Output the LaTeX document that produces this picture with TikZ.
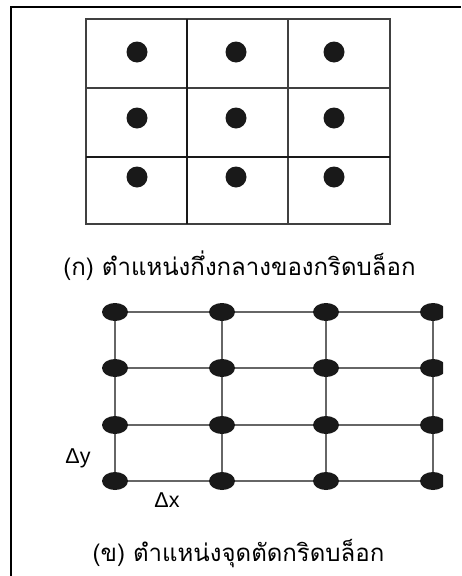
\documentclass[tikz,border=0pt]{standalone}
\usepackage{fontspec}
\setmainfont{Liberation Sans}
\newfontfamily\thaifont[Script=Thai]{Loma}
\usetikzlibrary{positioning, shapes.geometric}

\begin{document}
\begin{tikzpicture}[
  x=1pt, y=-1pt,
  frame/.style    = {draw=black, line width=2.3pt},
  cell/.style     = {draw=black!75, line width=1.4pt},
  thickcell/.style= {draw=black!90, line width=2.4pt},
  gridline/.style = {draw=black!60, line width=1.4pt},
  cdot/.style     = {fill=black!90, circle, inner sep=0pt, minimum size=21pt},
  vdot/.style     = {fill=black!90, ellipse, inner sep=0pt, minimum width=26pt, minimum height=18pt},
  caption/.style  = {font=\thaifont\fontsize{24}{28}\selectfont, inner sep=0pt},
  delta/.style    = {font=\fontsize{21.5}{24}\selectfont, inner sep=0pt},
]
  \useasboundingbox (0,0) rectangle (461,576);

  % outer frame (top and left only)
  \coordinate (fBL) at (11.2,576);
  \coordinate (fTL) at (11.2,6.7);
  \coordinate (fTR) at (461,6.7);
  \draw[frame] (fBL) -- (fTL) -- (fTR);

  % (a) cell-centred grid
  \coordinate (gNW) at (86,19);
  \coordinate (gSE) at (390,224);
  \draw[cell] (gNW) rectangle (gSE);
  \draw[cell]      (288,19) -- (288,224);
  \draw[cell]      (86,88)  -- (390,88);
  \draw[thickcell] (187,19) -- (187,224);
  \draw[thickcell] (86,157) -- (390,157);

  \foreach \x/\c in {137/a, 236/b, 334/c}
    \foreach \y/\r in {52/1, 118/2, 177/3}
      \node[cdot] (m\c\r) at (\x,\y) {};

  \node[caption] (capA) at (239.5,266) {(ก) ตำแหน่งกึ่งกลางของกริดบล็อก};

  % (b) vertex grid
  \begin{scope}
    \clip (0,290) rectangle (443,500);
    \foreach \x/\c in {115/a, 222/b, 326/c, 433/d}
      \foreach \y/\r in {312/1, 368/2, 425/3, 481/4}
        \coordinate (p\c\r) at (\x,\y);
    \foreach \r in {1,2,3,4}
      \draw[gridline] (pa\r) -- (pd\r);
    \foreach \c in {a,b,c,d}
      \draw[gridline] (p\c1) -- (p\c4);
    \foreach \c in {a,b,c,d}
      \foreach \r in {1,2,3,4}
        \node[vdot] (d\c\r) at (p\c\r) {};
  \end{scope}

  \node[delta] (dy) at (78,458)  {Δy};
  \node[delta] (dx) at (167,500) {Δx};

  \node[caption] (capB) at (238.5,554) {(ข) ตำแหน่งจุดตัดกริดบล็อก};
\end{tikzpicture}
\end{document}
